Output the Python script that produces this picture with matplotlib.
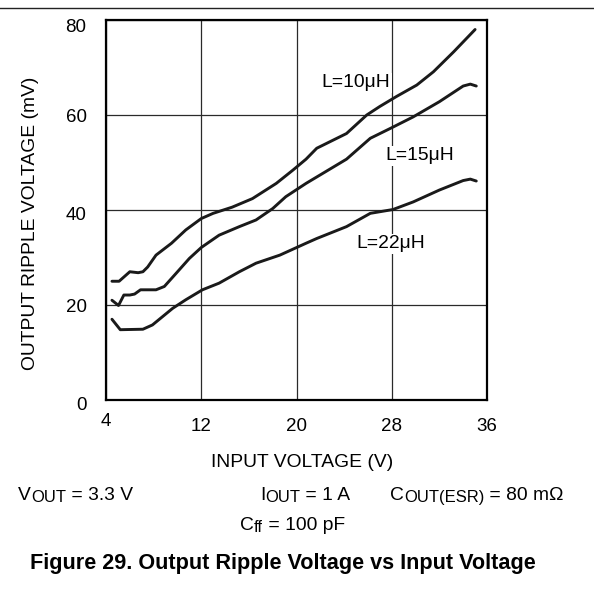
import matplotlib
matplotlib.use("Agg")
import matplotlib.pyplot as plt
from matplotlib.transforms import ScaledTranslation
from matplotlib.lines import Line2D

plt.rcParams['font.family'] = ['Liberation Sans', 'DejaVu Sans']

# Data
vin_10 = [4.5, 5.1, 6.0, 6.7, 7.1, 7.5, 8.2, 9.5, 10.7, 12.0, 13.0, 14.6, 16.3,
          18.3, 19.7, 20.8, 21.7, 24.2, 25.9, 27.0, 28.4, 30.1, 31.5, 33.2, 35.0]
ripple_10 = [25.0, 25.0, 27.0, 26.8, 27.0, 28.0, 30.5, 33.0, 35.8, 38.2, 39.3, 40.6, 42.4,
             45.6, 48.4, 50.7, 53.0, 56.1, 60.0, 61.8, 63.9, 66.3, 69.1, 73.3, 78.0]

vin_15 = [4.5, 5.05, 5.5, 6.0, 6.4, 6.9, 8.2, 8.9, 9.9, 11.0, 12.0, 13.5, 15.2,
          16.6, 18.0, 19.1, 20.8, 24.2, 26.2, 27.9, 29.8, 32.0, 34.0, 34.6, 35.1]
ripple_15 = [21.0, 19.9, 22.1, 22.1, 22.3, 23.2, 23.2, 23.9, 26.7, 29.8, 32.1, 34.7, 36.5,
             37.9, 40.3, 42.8, 45.6, 50.7, 55.1, 57.2, 59.6, 62.8, 66.1, 66.5, 66.1]

vin_22 = [4.5, 5.2, 7.1, 7.9, 9.6, 10.7, 12.1, 13.5, 15.2, 16.6, 18.6, 20.8,
          21.7, 24.2, 26.2, 28.1, 29.8, 32.0, 34.0, 34.6, 35.1]
ripple_22 = [17.0, 14.8, 14.9, 15.8, 19.3, 21.1, 23.2, 24.6, 27.0, 28.8, 30.5, 33.0,
             34.0, 36.5, 39.3, 40.1, 41.7, 44.2, 46.2, 46.5, 46.1]

curve_labels = ["L=10\u03bcH", "L=15\u03bcH", "L=22\u03bcH"]
label_pos = [(22.1, 66.8), (27.5, 51.4), (25.05, 32.9)]

x_ticks = [4, 12, 20, 28, 36]
y_ticks = [0, 20, 40, 60, 80]

fig = plt.figure(figsize=(5.94, 6.01), dpi=100)
ax = fig.add_axes([106 / 594, 1 - 400 / 601, 381 / 594, 380 / 601])

for xs, ys in [(vin_10, ripple_10), (vin_15, ripple_15), (vin_22, ripple_22)]:
    ax.plot(xs, ys, color='#1a1a1a', lw=2.1, solid_capstyle='round',
            solid_joinstyle='round', zorder=3)

for txt, (lx, ly) in zip(curve_labels, label_pos):
    ax.text(lx, ly, txt, fontsize=13.9, ha='left', va='center', zorder=4,
            bbox=dict(facecolor='white', edgecolor='none', pad=1.0))

ax.set_xlim(4, 36)
ax.set_ylim(0, 80)
ax.set_xticks(x_ticks)
ax.set_yticks(y_ticks)
ax.grid(True, color='#2a2a2a', lw=0.9)
ax.set_axisbelow(True)
for s in ax.spines.values():
    s.set_linewidth(1.6)
    s.set_color('black')

ax.tick_params(axis='x', length=0, pad=13, labelsize=13.5)
ax.tick_params(axis='y', length=0, pad=14, labelsize=13.5)

# small quirks in the label placement of the original
first = ax.xaxis.get_major_ticks()[0].label1
first.set_transform(first.get_transform()
                    + ScaledTranslation(0, 5 / 100, fig.dpi_scale_trans))
for tk, dy in zip(ax.yaxis.get_major_ticks(), [4, 0, 4, 0, 5]):
    tk.label1.set_transform(tk.label1.get_transform()
                            + ScaledTranslation(0, -dy / 100, fig.dpi_scale_trans))

ax.set_xlabel("INPUT VOLTAGE (V)", fontsize=13.9, va='center')
ax.xaxis.set_label_coords(0.516, -0.164)
ax.set_ylabel("OUTPUT RIPPLE VOLTAGE (mV)", fontsize=13.9, va='center')
ax.yaxis.set_label_coords(-0.199, 0.4645)

renderer = fig.canvas.get_renderer()


def rich_text(x_px, y_px, parts):
    # parts: (text, is_subscript); pieces are chained left to right
    x = x_px
    for s, sub in parts:
        size = 12 if sub else 13.9
        dy = 2 if sub else 0
        t = fig.text(x / 594, 1 - (y_px + dy) / 601, s, fontsize=size,
                     ha='left', va='baseline')
        x = t.get_window_extent(renderer).x1


rich_text(18, 500, [("V", False), ("OUT", True), (" = 3.3 V", False)])
rich_text(260, 500, [("I", False), ("OUT", True), (" = 1 A", False)])
rich_text(390, 500, [("C", False), ("OUT(ESR)", True), (" = 80 m\u03a9", False)])
rich_text(240, 530, [("C", False), ("ff", True), (" = 100 pF", False)])

fig.text(282.5 / 594, 1 - 569 / 601, "Figure 29. Output Ripple Voltage vs Input Voltage",
         fontsize=15.6, fontweight='bold', ha='center', va='baseline')

# rule across the top of the page
fig.add_artist(Line2D([0, 1], [1 - 7.5 / 601, 1 - 7.5 / 601], color='#222222', lw=1.0,
                      transform=fig.transFigure))

fig.savefig("out.png", dpi=100)
